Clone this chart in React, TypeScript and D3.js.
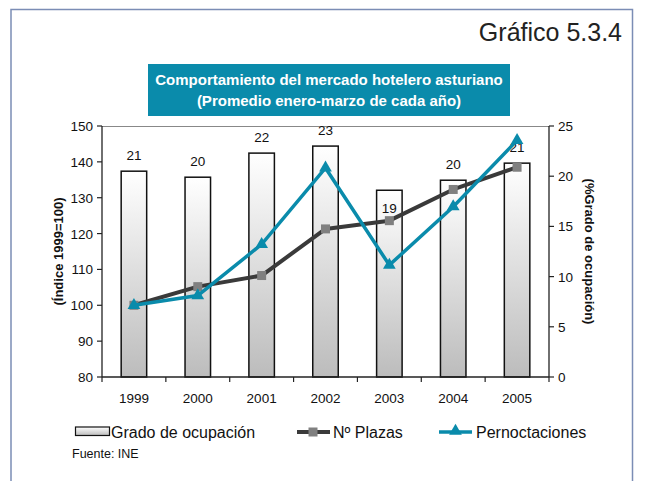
import React from 'react';
import * as d3 from 'd3';

const years = ['1999', '2000', '2001', '2002', '2003', '2004', '2005'];
const ocupacion = [20.5, 19.9, 22.3, 23.0, 18.6, 19.6, 21.3];
const ocupacionLabels = ['21', '20', '22', '23', '19', '20', '21'];
const plazas = [100, 105.2, 108.3, 121.3, 123.6, 132.3, 138.5];
const pernoctaciones = [100, 102.7, 117.0, 138.3, 111.2, 127.5, 146.0];
const leftTicks = [80, 90, 100, 110, 120, 130, 140, 150];
const rightTicks = [0, 5, 10, 15, 20, 25];
const labelInsideYears = ['2003'];

const W = 645;
const H = 481;
const M = { left: 102, right: 549, top: 126, bottom: 377 };
const TEAL = '#0a8bab';
const DARK = '#3a3a3a';
const FONT = "'Liberation Sans', Arial, Helvetica, sans-serif";

export default function App() {
  const xb = d3.scaleBand<string>().domain(years).range([M.left, M.right]);
  const yL = d3.scaleLinear().domain([80, 150]).range([M.bottom, M.top]);
  const yR = d3.scaleLinear().domain([0, 25]).range([M.bottom, M.top]);
  const cx = (d: string) => (xb(d) as number) + xb.bandwidth() / 2;
  const bw = 25.5;

  const line = d3.line<number>().x((_, i) => cx(years[i])).y((v) => yL(v));
  const tri = d3.symbol().type(d3.symbolTriangle).size(70)();
  const boundaries = d3.range(years.length + 1).map((i) => M.left + i * xb.bandwidth());

  return (
    <svg width={W} height={H} style={{ position: 'absolute', left: 0, top: 0, background: '#fff' }} fontFamily={FONT}>
      <defs>
        <linearGradient id="barGrad" x1="0" y1="0" x2="0" y2="1">
          <stop offset="0" stopColor="#ffffff" />
          <stop offset="1" stopColor="#bcbcbc" />
        </linearGradient>
      </defs>
      <rect x={0} y={0} width={W} height={H} fill="#fff" />
      <rect x={11} y={9.5} width={621.5} height={H + 20} fill="none" stroke="#7b8db5" strokeWidth={1.5} />
      <text x={622} y={41} textAnchor="end" fontSize={25} fill="#222">Gráfico 5.3.4</text>

      <rect x={148} y={64} width={362} height={52} fill={TEAL} />
      <text x={329} y={85} textAnchor="middle" fontSize={15} fontWeight="bold" fill="#fff">Comportamiento del mercado hotelero asturiano</text>
      <text x={329} y={106} textAnchor="middle" fontSize={15} fontWeight="bold" fill="#fff">(Promedio enero-marzo de cada año)</text>

      {/* top border of plot */}
      <line x1={M.left} x2={M.right} y1={M.top + 0.5} y2={M.top + 0.5} stroke="#888" strokeWidth={1} />

      {/* bars */}
      {years.map((yr, i) => (
        <rect key={yr} x={cx(yr) - bw / 2} y={yR(ocupacion[i])} width={bw} height={M.bottom - yR(ocupacion[i])}
          fill="url(#barGrad)" stroke="#111" strokeWidth={1.5} />
      ))}
      {years.map((yr, i) => (
        <text key={'l' + yr} x={cx(yr)} y={labelInsideYears.includes(yr) ? yR(ocupacion[i]) + 23 : yR(ocupacion[i]) - 11}
          textAnchor="middle" fontSize={13.5} fill="#111">{ocupacionLabels[i]}</text>
      ))}

      {/* axes */}
      <line x1={M.left} x2={M.left} y1={M.top} y2={M.bottom} stroke="#222" strokeWidth={1.3} />
      <line x1={M.right} x2={M.right} y1={M.top} y2={M.bottom} stroke="#222" strokeWidth={1.3} />
      <line x1={M.left} x2={M.right} y1={M.bottom} y2={M.bottom} stroke="#222" strokeWidth={1.3} />
      {leftTicks.map((t) => (
        <g key={'lt' + t}>
          <line x1={M.left - 5} x2={M.left} y1={yL(t)} y2={yL(t)} stroke="#222" strokeWidth={1.2} />
          <text x={M.left - 9} y={yL(t) + 5} textAnchor="end" fontSize={13.5} fill="#111">{t}</text>
        </g>
      ))}
      {rightTicks.map((t) => (
        <g key={'rt' + t}>
          <line x1={M.right} x2={M.right + 5} y1={yR(t)} y2={yR(t)} stroke="#222" strokeWidth={1.2} />
          <text x={M.right + 9} y={yR(t) + 5} textAnchor="start" fontSize={13.5} fill="#111">{t}</text>
        </g>
      ))}
      {boundaries.map((b, i) => (
        <line key={'b' + i} x1={b} x2={b} y1={M.bottom} y2={M.bottom + 5} stroke="#222" strokeWidth={1.2} />
      ))}
      {years.map((yr) => (
        <text key={'x' + yr} x={cx(yr)} y={403} textAnchor="middle" fontSize={13.5} fill="#111">{yr}</text>
      ))}

      <text transform={`translate(63,${(M.top + M.bottom) / 2}) rotate(-90)`} textAnchor="middle" fontSize={13} fontWeight="bold" fill="#111">(Índice 1999=100)</text>
      <text transform={`translate(585,${(M.top + M.bottom) / 2}) rotate(90)`} textAnchor="middle" fontSize={13} fontWeight="bold" fill="#111">(%Grado de ocupación)</text>

      {/* lines */}
      <path d={line(plazas) as string} fill="none" stroke={DARK} strokeWidth={4} strokeLinejoin="round" />
      {years.map((yr, i) => (
        <rect key={'p' + yr} x={cx(yr) - 4.5} y={yL(plazas[i]) - 4.5} width={9} height={9} fill="#808080" />
      ))}
      <path d={line(pernoctaciones) as string} fill="none" stroke={TEAL} strokeWidth={3.5} strokeLinejoin="miter" />
      {years.map((yr, i) => (
        <path key={'t' + yr} d={tri as string} transform={`translate(${cx(yr)},${yL(pernoctaciones[i])})`} fill={TEAL} />
      ))}

      {/* legend */}
      <rect x={75.5} y={427} width={34} height={8.5} fill="url(#barGrad)" stroke="#111" strokeWidth={1.2} />
      <text x={111} y={438} fontSize={16} fill="#111">Grado de ocupación</text>
      <line x1={297} x2={330} y1={432} y2={432} stroke={DARK} strokeWidth={4} />
      <rect x={308.5} y={427.5} width={9} height={9} fill="#808080" />
      <text x={333} y={438} fontSize={16} fill="#111">Nº Plazas</text>
      <line x1={439} x2={472} y1={432} y2={432} stroke={TEAL} strokeWidth={3.5} />
      <path d={tri as string} transform={`translate(455.5,431)`} fill={TEAL} />
      <text x={476} y={438} fontSize={16} fill="#111">Pernoctaciones</text>

      <text x={72} y={457.5} fontSize={12.5} fill="#111">Fuente: INE</text>
    </svg>
  );
}
